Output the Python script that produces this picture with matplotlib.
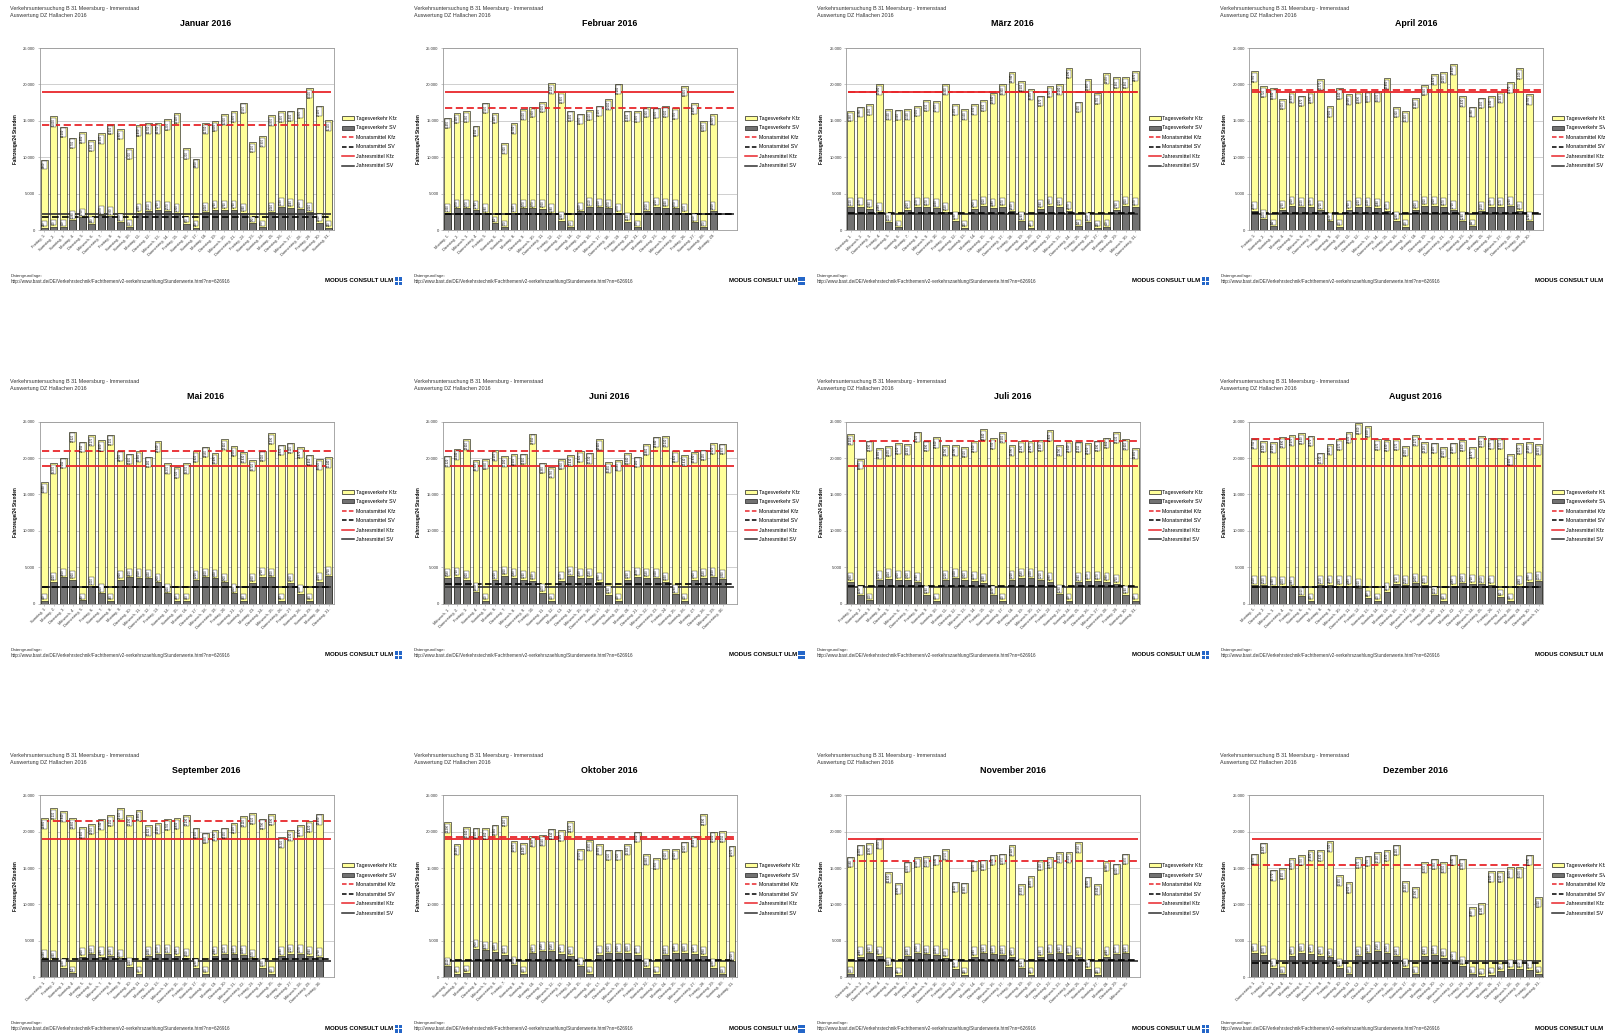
import datetime as dt
import matplotlib
matplotlib.use("Agg")
import matplotlib.pyplot as plt
from matplotlib.patches import Patch, Rectangle
from matplotlib.lines import Line2D
from matplotlib.ticker import FuncFormatter, MultipleLocator

plt.rcParams['font.family'] = ['Liberation Sans', 'DejaVu Sans']

# ---------------- data ----------------
YEAR = 2016
month_names = ["Januar", "Februar", "März", "April", "Mai", "Juni",
               "Juli", "August", "September", "Oktober", "November", "Dezember"]
weekday_names = ["Montag", "Dienstag", "Mittwoch", "Donnerstag", "Freitag", "Samstag", "Sonntag"]

jan_kfz = [9660, 15630, 14200, 12700, 13400, 12300, 13300, 14600, 13900, 11200, 14400, 14700, 14700, 15200, 16100,
           11200, 9800, 14700, 15000, 15900, 16300, 17500, 12100, 12900, 15800, 16300, 16400, 16800, 19500, 17100, 15100]
jan_sv = [320, 460, 410, 1380, 1750, 830, 2070, 1930, 1060, 410, 2390, 2620, 2760, 2570, 2300,
          870, 320, 2440, 2760, 2760, 2760, 2390, 920, 370, 2440, 3130, 3040, 2850, 2440, 1010, 320]
feb_kfz = [15450, 16100, 16280, 14350, 17500, 16100, 11900, 14700, 16600, 16900, 17600, 20200, 18900, 16400, 16000,
           16500, 17100, 18000, 20100, 16400, 16300, 16900, 16800, 17000, 16700, 19800, 17400, 15000, 15900]
feb_sv = [2330, 2970, 2970, 2740, 2280, 960, 370, 2330, 2970, 2970, 2920, 2280, 1280, 370, 2560,
          3150, 3100, 2970, 2370, 1140, 370, 2600, 3200, 3060, 2970, 2370, 1050, 370, 2600]
mar_kfz = [16360, 16960, 17280, 20080, 16590, 16540, 16590, 17050, 17830, 17690, 19990, 17280, 16590, 17330, 17830,
           18840, 19990, 21740, 20500, 19350, 18470, 19720, 20080, 22290, 17650, 20680, 18750, 21550, 20960, 20960, 21870]
mar_sv = [3120, 3170, 2940, 2480, 1100, 370, 2800, 3170, 3170, 3030, 2530, 1290, 320, 2900, 3310,
          3080, 3170, 2620, 1240, 320, 2940, 3350, 3220, 2670, 510, 1100, 320, 410, 2760, 3350, 3170]
apr_kfz = [21780, 19720, 19440, 18010, 18930, 18470, 18890, 20770, 17000, 19440, 18660, 18890, 19030, 19070, 20860,
           16910, 16310, 18110, 19940, 21420, 21690, 22840, 18430, 16960, 18200, 18340, 18930, 20270, 22240, 18700]
apr_sv = [2670, 1470, 510, 2760, 3310, 3120, 3170, 2710, 1190, 460, 2760, 3220, 3120, 3080, 2670,
          1290, 460, 2800, 3310, 3310, 3170, 2710, 1240, 510, 2620, 3170, 3170, 3260, 2670, 1240]
mai_kfz = [16650, 19270, 20050, 23620, 22250, 23170, 22480, 23210, 21010, 20600, 20960, 20180, 22340, 19270, 18720,
           19270, 20920, 21560, 20690, 22610, 21650, 20830, 19720, 21010, 23390, 21830, 22110, 21470, 20460, 19820, 20140]
mai_sv = [410, 3000, 3600, 3300, 450, 2400, 1400, 400, 3300, 3600, 3500, 3450, 2900, 1400, 400,
          400, 3200, 3600, 3450, 2900, 1400, 400, 2850, 3700, 3600, 400, 2850, 1350, 400, 3000, 3750]
jun_kfz = [20320, 21240, 22610, 19720, 19860, 21100, 20280, 20500, 20600, 23350, 19360, 18760, 19900, 20410, 20920,
           20730, 22610, 19450, 19680, 20640, 20180, 21880, 22940, 23030, 20920, 20410, 20830, 21150, 22020, 21970]
jun_sv = [3580, 3720, 3300, 1600, 410, 3200, 3850, 3580, 3260, 3120, 1470, 410, 3170, 3760, 3530,
          3530, 2980, 1240, 410, 3260, 3670, 3530, 3490, 3030, 1280, 410, 3300, 3530, 3620, 3350]
jul_kfz = [23300, 19860, 22390, 21380, 21650, 22020, 21930, 23620, 22390, 22840, 21790, 21790, 21510, 22340, 23940,
           22710, 23580, 21790, 22290, 22290, 22480, 23810, 21790, 22340, 22250, 22020, 22390, 22800, 23530, 22610, 21380]
jul_sv = [2980, 1190, 460, 3210, 3440, 3300, 3300, 2940, 1240, 410, 3210, 3490, 3300, 3170, 2890,
          1190, 410, 3210, 3580, 3490, 3210, 2980, 1280, 410, 2940, 3170, 3170, 2980, 2750, 1240, 410]
aug_kfz = [22750, 22340, 22200, 22890, 23170, 23440, 23070, 20730, 21930, 22570, 23530, 24800, 24400, 22570, 22430,
           22570, 21650, 23170, 22160, 22110, 21510, 22110, 22480, 21470, 23000, 22710, 22710, 20500, 22020, 22160, 21900]
aug_sv = [2520, 2520, 2390, 2430, 2340, 1010, 410, 2520, 2610, 2480, 2480, 2200, 830, 410, 1610,
          2710, 2520, 2800, 2570, 1150, 410, 2480, 2800, 2710, 2660, 2570, 960, 410, 2480, 2980, 3070]
sep_kfz = [21880, 23210, 22840, 21880, 20600, 21060, 21740, 22250, 23210, 22290, 22980, 20920, 21150, 21700, 21830,
           22290, 20550, 19860, 20230, 20550, 21190, 22110, 22520, 21790, 22390, 19220, 20230, 20870, 21420, 22480]
sep_sv = [2480, 2390, 1330, 550, 2800, 3120, 2840, 2890, 2570, 1420, 460, 2890, 3170, 3170, 2940,
          2660, 1280, 460, 2940, 3170, 3120, 3030, 2570, 1330, 460, 2890, 3210, 3170, 2940, 2750]
okt_kfz = [21290, 18260, 20640, 20550, 20460, 20960, 22160, 18670, 18440, 19360, 19540, 20410, 20180, 21420, 17570,
           18850, 18300, 17520, 17520, 18300, 20000, 16880, 16330, 17610, 17610, 18620, 19400, 22390, 20000, 20050, 18070]
okt_sv = [1510, 460, 600, 3900, 3670, 3490, 3070, 1650, 460, 3260, 3580, 3580, 3210, 2980, 1510,
          460, 3070, 3300, 3300, 3350, 3070, 1280, 460, 3030, 3390, 3350, 3210, 2980, 1330, 410, 2200]
nov_kfz = [16560, 18210, 18390, 19080, 14490, 12890, 15870, 16510, 16610, 16840, 17570, 13120, 12980, 16010, 16150,
           16840, 16970, 18120, 12800, 13850, 16100, 16470, 17200, 17200, 18580, 13810, 12840, 15960, 15600, 16970]
nov_sv = [410, 2840, 3260, 2980, 1420, 320, 2890, 3300, 3120, 3030, 2660, 1190, 320, 2840, 3260,
          3120, 3030, 2800, 1240, 320, 2840, 3170, 3260, 3070, 2800, 1190, 320, 2840, 3170, 3260]
dez_kfz = [16970, 18480, 14770, 14950, 16330, 16790, 17480, 17430, 18720, 13990, 13030, 16470, 16700, 17160, 17430,
           18210, 13210, 12390, 15830, 16280, 15830, 16840, 16280, 9630, 10140, 14540, 14540, 15090, 15090, 16840, 11010]
dez_sv = [3350, 3070, 1280, 410, 2980, 3350, 3210, 2980, 2710, 1280, 410, 2890, 3260, 3580, 3300,
          2890, 1280, 410, 2940, 3030, 2660, 2200, 1600, 410, 230, 320, 920, 1150, 1150, 1010, 500]

monthly_kfz = [14450, 16720, 18900, 19270, 21000, 20900, 22350, 22550, 21450, 19300, 16000, 15400]
monthly_sv = [1800, 2250, 2300, 2400, 2300, 2650, 2450, 2250, 2450, 2400, 2400, 1950]
annual_kfz = 18950
annual_sv = 2250

kfz_all = [jan_kfz, feb_kfz, mar_kfz, apr_kfz, mai_kfz, jun_kfz, jul_kfz, aug_kfz, sep_kfz, okt_kfz, nov_kfz, dez_kfz]
sv_all = [jan_sv, feb_sv, mar_sv, apr_sv, mai_sv, jun_sv, jul_sv, aug_sv, sep_sv, okt_sv, nov_sv, dez_sv]

header1 = "Verkehrsuntersuchung B 31 Meersburg - Immenstaad"
header2 = "Auswertung DZ Hallachen 2016"
footer1 = "Datengrundlage:"
footer2 = "http://www.bast.de/DE/Verkehrstechnik/Fachthemen/v2-verkehrszaehlung/Stundenwerte.html?nn=626916"
logo_text = "MODUS CONSULT ULM"
legend_labels = ["Tagesverkehr Kfz", "Tagesverkehr SV", "Monatsmittel Kfz",
                 "Monatsmittel SV", "Jahresmittel Kfz", "Jahresmittel SV"]

# ---------------- style ----------------
YELLOW = "#FFFF99"
GREY = "#727272"
RED = "#E8262B"
DARK = "#202020"

W, H = 1605, 1035
TW, TH = 403.3, 373.6

fig = plt.figure(figsize=(W / 100, H / 100), dpi=100)
fig.patch.set_facecolor("white")


def fx(x):
    return x / W


def fy(y):
    return 1 - y / H


def de_fmt(v):
    return f"{int(round(v)):,}".replace(",", ".")


for m in range(12):
    r, c = divmod(m, 4)
    ox, oy = c * TW, r * TH
    kfz = kfz_all[m]
    sv = sv_all[m]
    n = len(kfz)
    L, R, T, B = ox + 39.5, ox + 333.5, oy + 48.0, oy + 230.0
    ax = fig.add_axes([fx(L), fy(B), (R - L) / W, (B - T) / H])
    xs = list(range(n))
    ax.bar(xs, kfz, width=0.72, color=YELLOW, edgecolor=DARK, linewidth=0.45, zorder=2)
    ax.bar(xs, sv, width=0.72, color=GREY, edgecolor=DARK, linewidth=0.45, zorder=3)

    for i in xs:
        ax.text(i, kfz[i] - 300, de_fmt(kfz[i]), rotation=90, ha="center", va="top",
                fontsize=1.9, color="black", zorder=6,
                bbox=dict(boxstyle="square,pad=0.15", fc="white", ec="black", lw=0.25))
        ax.text(i, sv[i] + 250, de_fmt(sv[i]), rotation=90, ha="center", va="bottom",
                fontsize=1.9, color="black", zorder=6,
                bbox=dict(boxstyle="square,pad=0.15", fc="white", ec="black", lw=0.25))

    x0, x1 = -0.25, 30.25
    ax.hlines(annual_kfz, x0, x1, colors=RED, linewidth=1.3, zorder=5)
    ax.hlines(monthly_kfz[m], x0, x1, colors=RED, linewidth=1.3, linestyles=(0, (4, 2)), zorder=5)
    ax.hlines(annual_sv, x0, x1, colors="#303030", linewidth=1.2, zorder=5)
    ax.hlines(monthly_sv[m], x0, x1, colors="black", linewidth=1.2, linestyles=(0, (4, 2)), zorder=5)

    ax.set_xlim(-0.5, 30.5)
    ax.set_ylim(0, 25000)
    ax.yaxis.set_major_locator(MultipleLocator(5000))
    ax.yaxis.set_major_formatter(FuncFormatter(lambda v, p: de_fmt(v)))
    ax.yaxis.grid(True, color="#C8C8C8", linewidth=0.6)
    ax.set_axisbelow(True)
    for sp in ax.spines.values():
        sp.set_color("#9A9A9A")
        sp.set_linewidth(0.6)

    labels = []
    for d in range(1, n + 1):
        date = dt.date(YEAR, m + 1, d)
        labels.append(f"{weekday_names[date.weekday()]}, {d}.")
    ax.set_xticks(xs)
    ax.set_xticklabels(labels, rotation=45, ha="right", rotation_mode="anchor",
                       fontsize=2.9, color="#333333")
    ax.tick_params(axis="x", length=1.5, width=0.4, color="#9A9A9A", pad=1)
    ax.tick_params(axis="y", length=1.5, width=0.4, color="#9A9A9A", pad=1.5,
                   labelsize=3.0, labelcolor="#333333")
    ax.set_ylabel("Fahrzeuge/24 Stunden", fontsize=3.3, fontweight="bold")
    ax.yaxis.set_label_coords(-22.0 / (R - L), 0.5)

    # title and headers
    fig.text(fx(ox + 206), fy(oy + 23), f"{month_names[m]} {YEAR}", ha="center", va="center",
             fontsize=6.4, fontweight="bold")
    fig.text(fx(ox + 10.5), fy(oy + 8.3), header1, ha="left", va="center", fontsize=3.9, color="#333333")
    fig.text(fx(ox + 10.5), fy(oy + 15.0), header2, ha="left", va="center", fontsize=3.9, color="#333333")

    # legend
    handles = [
        Patch(facecolor=YELLOW, edgecolor=DARK, linewidth=0.5),
        Patch(facecolor=GREY, edgecolor=DARK, linewidth=0.5),
        Line2D([0], [0], color=RED, lw=1.1, linestyle=(0, (3, 1.5))),
        Line2D([0], [0], color="black", lw=1.1, linestyle=(0, (3, 1.5))),
        Line2D([0], [0], color=RED, lw=1.1),
        Line2D([0], [0], color="#303030", lw=1.1),
    ]
    fig.legend(handles, legend_labels, loc="upper left",
               bbox_to_anchor=(fx(ox + 342), fy(oy + 116.0)),
               frameon=False, fontsize=3.8, handlelength=2.3, handleheight=0.8,
               handletextpad=0.3, labelspacing=0.85, borderpad=0, borderaxespad=0)

    # footer
    fig.text(fx(ox + 10.5), fy(oy + 276.0), footer1, ha="left", va="center", fontsize=3.2, color="#333333")
    fig.text(fx(ox + 10.5), fy(oy + 281.7), footer2, ha="left", va="center", fontsize=3.3, color="#333333")
    fig.text(fx(ox + 393.5), fy(oy + 281.0), logo_text, ha="right", va="center",
             fontsize=4.4, fontweight="bold", color="black")
    # logo icon: blue square with white cross
    fig.patches.append(Rectangle((fx(ox + 395), fy(oy + 285.5)), 7 / W, 8 / H,
                                 transform=fig.transFigure, facecolor="#2466C8", edgecolor="none"))
    fig.patches.append(Rectangle((fx(ox + 398.2), fy(oy + 285.5)), 0.7 / W, 8 / H,
                                 transform=fig.transFigure, facecolor="white", edgecolor="none"))
    fig.patches.append(Rectangle((fx(ox + 395), fy(oy + 281.9)), 7 / W, 0.7 / H,
                                 transform=fig.transFigure, facecolor="white", edgecolor="none"))

fig.savefig("out.png", dpi=100, facecolor="white")
